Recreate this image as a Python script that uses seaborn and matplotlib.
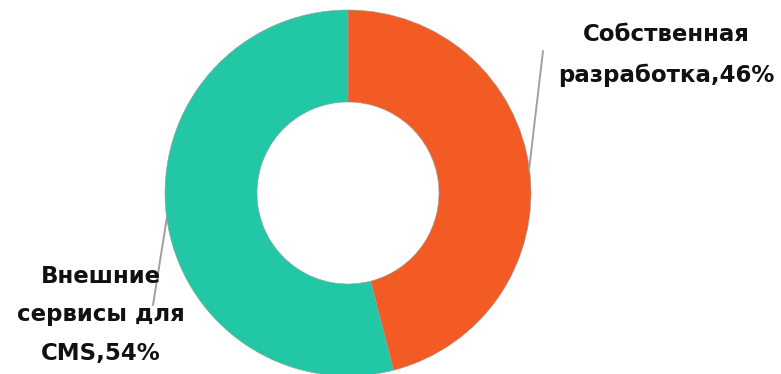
import matplotlib
matplotlib.use("Agg")
import matplotlib.pyplot as plt
import seaborn as sns

categories = ["Собственная\nразработка", "Внешние\nсервисы для\nCMS"]
values = [46, 54]
colors = ["#F25C24", "#22C8A6"]

sns.set_theme(style="white")
plt.rcParams['font.family'] = ['DejaVu Sans']

W, H = 781, 374
fig = plt.figure(figsize=(W / 100, H / 100), dpi=100)
ax = fig.add_axes([0, 0, 1, 1])

cx, cy, R = 348, H - 193, 183
ax.pie(values, colors=colors, startangle=90, counterclock=False,
       center=(cx, cy), radius=R,
       wedgeprops=dict(width=R - 91, edgecolor="#9a9a9a", linewidth=0.4))

labels = [f"{c},{v}%" for c, v in zip(categories, values)]
ax.text(666, H - 55, labels[0], ha="center", va="center", fontsize=16.5,
        fontweight="bold", color="#111111", linespacing=1.93)
ax.text(101, H - 315, labels[1], ha="center", va="center", fontsize=16.5,
        fontweight="bold", color="#111111", linespacing=1.85)

ax.plot([543, 529], [H - 51, H - 170], color="#a0a0a0", lw=1.4)
ax.plot([167, 153], [H - 217, H - 305], color="#a0a0a0", lw=1.4, zorder=0.5)

ax.set_xlim(0, W)
ax.set_ylim(0, H)
ax.set_aspect("equal", adjustable="box")
ax.axis("off")
fig.savefig("out.png", dpi=100, facecolor="white")
